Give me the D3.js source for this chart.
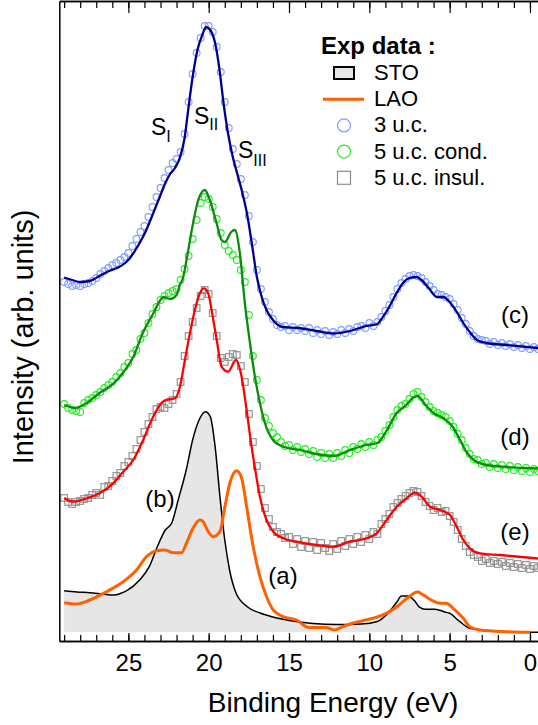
<!DOCTYPE html>
<html>
<head>
<meta charset="utf-8">
<script src="https://cdn.jsdelivr.net/npm/d3@7"></script>
<style>
  body { margin: 0; background: #fff; }
  svg { display: block; font-family: "Liberation Sans", Arial, sans-serif; }
</style>
</head>
<body>
<svg id="chart" width="538" height="725"></svg>
<script>
// Spectra: [binding energy (eV), intensity (arb. units)]

// (b) STO, black line with grey fill
const stoLine = [[29.0,4.13],[28.2,4.0],[27.4,3.93],[26.6,3.8],[25.9,3.7],[25.5,3.85],[25.1,4.13],
  [24.3,5.2],[23.7,6.53],[23.2,8.53],[22.7,10.2],[22.3,10.9],[21.9,13.2],[21.4,16.2],[21.0,19.2],
  [20.6,21.2],[20.2,22.03],[19.9,21.53],[19.6,18.53],[19.3,13.53],[19.0,9.2],[18.7,6.2],[18.3,3.9],
  [17.6,2.53],[16.8,1.9],[16.0,1.5],[14.9,1.13],[13.5,0.85],[12.0,0.75],[10.5,0.8],[9.5,1.05],
  [8.9,1.77],[8.3,2.97],[8.0,3.59],[7.6,3.59],[7.2,3.14],[6.9,2.52],[6.5,2.28],[5.9,2.28],[5.3,2.0],
  [5.0,1.87],[4.36,1.03],[3.74,0.37],[2.5,0.12],[0.0,-0.03],[-0.5,-0.03]];

// (a) LAO, orange line
const laoLine = [[29.0,2.93],[28.23,2.8],[27.4,3.2],[26.36,4.03],[25.32,5.03],[24.49,6.2],[23.87,7.53],
  [23.24,8.13],[22.73,8.2],[22.21,7.93],[21.69,7.93],[21.38,8.9],[20.97,10.4],[20.55,11.2],[20.34,11.03],
  [20.03,10.03],[19.72,9.53],[19.3,10.03],[18.99,12.53],[18.68,14.9],[18.26,16.13],[17.95,15.4],
  [17.64,12.53],[17.23,8.53],[16.81,5.53],[16.4,3.53],[15.98,2.2],[15.36,1.53],[14.53,1.2],[13.8,0.46],
  [12.7,0.46],[12.2,0.2],[11.6,0.57],[11.0,0.9],[10.35,1.15],[9.5,1.5],[8.85,1.94],[8.2,2.63],
  [7.57,3.48],[7.0,4.0],[6.6,3.66],[6.08,3.14],[5.6,2.87],[5.2,2.87],[4.78,2.37],[4.15,1.37],
  [3.74,0.53],[3.1,0.2],[1.45,0.03],[0.0,-0.03]];

// (c) 3 u.c., navy line
const blueLine = [[29.0,35.45],[28.5,35.2],[28.0,35.0],[27.4,35.1],[26.8,35.6],[26.2,36.1],[25.7,36.4],
  [25.2,36.9],[24.9,37.4],[24.6,38.1],[24.3,38.9],[24.0,39.8],[23.7,40.9],[23.3,42.5],[23.0,43.7],
  [22.7,44.9],[22.4,45.8],[22.1,46.4],[21.8,47.4],[21.5,49.4],[21.3,51.9],[21.0,55.5],[20.7,58.2],
  [20.4,59.7],[20.15,60.5],[19.9,60.2],[19.6,58.9],[19.3,55.9],[19.1,53.2],[18.8,49.9],[18.5,47.5],
  [18.2,45.7],[17.9,43.9],[17.6,41.7],[17.3,38.7],[17.0,35.5],[16.7,33.5],[16.4,32.2],[16.0,31.2],
  [15.4,30.5],[14.4,30.4],[13.3,30.1],[12.2,29.85],[11.2,30.1],[10.2,30.6],[9.5,30.8],[9.2,31.4],
  [8.8,32.4],[8.3,33.9],[7.9,34.9],[7.5,35.4],[7.05,35.5],[6.75,35.2],[6.3,34.4],[5.8,33.5],[5.4,33.5],
  [5.0,33.0],[4.55,32.0],[4.15,30.9],[3.7,29.9],[3.3,29.2],[2.7,28.9],[1.45,28.7],[-0.5,28.4]];

// (d) 5 u.c. conducting, green line
const greenLine = [[29.0,22.7],[28.3,22.4],[27.6,22.9],[26.8,23.9],[25.9,24.9],[25.3,26.0],[24.7,27.5],
  [24.1,29.9],[23.5,31.7],[22.8,33.5],[22.4,33.3],[22.0,33.7],[21.8,34.7],[21.6,35.4],[21.38,37.2],
  [20.97,40.9],[20.65,43.2],[20.24,44.2],[19.93,43.2],[19.51,40.9],[19.2,39.2],[18.99,39.0],[18.6,40.0],
  [18.37,40.2],[18.06,37.9],[17.75,32.9],[17.43,28.9],[17.12,25.5],[16.81,22.9],[16.5,20.9],[16.0,19.2],
  [15.3,18.5],[14.3,18.2],[13.3,17.8],[12.2,17.6],[11.2,18.2],[10.2,18.7],[9.5,18.9],[8.9,20.2],
  [8.3,21.9],[7.7,22.7],[7.3,23.4],[7.0,23.6],[6.5,22.7],[6.0,21.9],[5.4,21.4],[4.8,20.5],[4.35,19.2],
  [3.95,18.0],[3.5,17.2],[2.7,16.7],[1.45,16.5],[-0.5,16.35]];

// (e) 5 u.c. insulating, red line
const redLine = [[29.0,13.4],[28.44,13.03],[27.6,13.37],[26.8,13.87],[25.95,14.87],[25.32,16.03],
  [24.7,17.2],[24.08,19.2],[23.46,21.53],[22.93,22.93],[22.52,23.27],[22.1,23.37],[21.79,24.53],
  [21.48,27.2],[21.17,29.87],[20.86,32.2],[20.55,33.87],[20.3,34.37],[20.03,33.87],[19.82,32.2],
  [19.5,29.2],[19.2,26.53],[18.79,26.03],[18.31,27.2],[17.95,25.53],[17.64,22.2],[17.33,18.53],
  [17.12,16.4],[16.81,13.53],[16.4,11.2],[15.98,10.03],[15.36,9.37],[14.53,9.03],[13.28,8.7],
  [12.25,8.53],[11.21,9.03],[10.17,9.37],[9.55,9.87],[8.92,11.2],[8.3,12.53],[7.68,13.37],[7.16,13.93],
  [6.74,13.53],[6.23,12.53],[5.6,12.2],[4.98,11.7],[4.56,10.53],[4.15,9.2],[3.74,8.37],[3.11,7.87],
  [1.87,7.7],[-0.5,7.35]];

// measured points, one every 0.25 eV from 29 to -0.5 eV
const markerEnergies = d3.range(29, -0.51, -0.25);

const blueMarkers = [
  35.0, 34.8, 34.6, 34.7, 34.6, 34.8, 34.9, 35.1, 35.4, 35.8,
  36.1, 36.4, 36.7, 36.9, 37.2, 37.5, 37.9, 38.6, 39.3, 40.0,
  40.6, 41.5, 42.5, 43.5, 44.4, 45.4, 46.2, 46.9, 47.3, 48.0,
  49.8, 53.0, 55.8, 57.9, 59.4, 60.6, 60.6, 60.0, 58.5, 56.0,
  53.0, 50.4, 48.3, 46.8, 45.3, 43.7, 41.6, 39.0, 36.2, 34.3,
  33.0, 32.0, 31.3, 30.7, 30.5, 30.6, 30.2, 30.5, 30.2, 30.4,
  30.1, 30.4, 29.9, 30.2, 29.8, 30.1, 29.7, 30.0, 29.8, 30.2,
  29.9, 30.3, 30.1, 30.5, 30.6, 30.4, 30.9, 30.6, 31.0, 31.5,
  32.1, 32.7, 33.5, 34.3, 34.9, 35.3, 35.6, 35.7, 35.6, 35.4,
  35.0, 34.6, 34.2, 33.8, 33.7, 33.5, 33.3, 32.8, 32.2, 31.4,
  30.8, 30.1, 29.6, 29.3, 29.2, 29.1, 28.8, 29.0, 28.7, 28.9,
  28.6, 28.8, 28.5, 28.7, 28.4, 28.6, 28.3, 28.5, 28.3];

const greenMarkers = [
  22.8, 22.4, 22.2, 22.1, 22.0, 22.9, 23.2, 23.4, 23.7, 24.0,
  24.4, 24.7, 25.0, 25.5, 25.9, 26.5, 26.9, 27.8, 28.2, 29.3,
  29.9, 30.9, 31.8, 32.5, 33.2, 33.6, 33.9, 34.1, 34.3, 35.2,
  36.3, 37.6, 39.3, 41.2, 42.9, 43.5, 43.3, 42.5, 41.3, 39.9,
  38.7, 38.1, 37.7, 37.2, 36.2, 35.0, 31.7, 27.6, 25.2, 23.2,
  21.4, 20.6, 19.9, 19.5, 19.0, 18.6, 18.7, 18.2, 18.5, 18.0,
  18.3, 17.8, 18.1, 17.5, 17.9, 17.4, 17.8, 17.4, 17.9, 17.6,
  18.2, 17.9, 18.5, 18.3, 18.8, 18.5, 19.0, 18.7, 19.2, 19.5,
  20.1, 20.7, 21.5, 22.2, 22.6, 22.8, 23.3, 23.8, 24.0, 23.5,
  23.0, 22.5, 22.1, 21.9, 21.7, 21.5, 21.1, 20.5, 19.8, 19.2,
  18.4, 17.8, 17.3, 17.2, 16.8, 16.9, 16.5, 16.8, 16.4, 16.7,
  16.3, 16.6, 16.2, 16.5, 16.1, 16.4, 16.0, 16.3, 16.1];

const greyMarkers = [
  13.4, 13.0, 12.8, 13.0, 13.1, 13.3, 13.4, 13.7, 13.9, 13.7,
  14.5, 14.6, 15.1, 15.6, 15.9, 16.6, 17.0, 17.6, 18.3, 19.2,
  20.0, 20.8, 21.5, 22.3, 22.5, 22.4, 22.8, 23.2, 23.8, 25.0,
  27.6, 29.6, 31.0, 32.4, 33.6, 34.2, 33.8, 31.9, 29.6, 27.4,
  27.0, 27.5, 27.8, 27.7, 26.6, 25.0, 21.8, 19.0, 16.6, 14.3,
  12.4, 11.3, 10.5, 10.0, 9.8, 9.4, 9.5, 8.8, 9.3, 8.5,
  9.1, 8.4, 9.0, 8.2, 8.9, 8.4, 8.1, 8.8, 8.3, 9.1,
  8.6, 9.3, 8.8, 9.5, 9.0, 9.7, 9.3, 10.0, 9.8, 10.8,
  11.3, 11.8, 12.5, 12.9, 13.3, 13.6, 13.9, 14.1, 14.0, 13.6,
  13.0, 12.6, 12.2, 12.4, 12.0, 12.1, 11.6, 11.0, 10.2, 9.3,
  8.6, 8.0, 7.7, 7.5, 7.1, 7.3, 6.9, 7.1, 6.8, 7.0,
  6.6, 6.9, 6.5, 6.8, 6.4, 6.7, 6.3, 6.6, 6.4];

const majorTicks = [25, 20, 15, 10, 5, 0];
const minorTicks = d3.range(0, 30, 1);

const legendItems = ["STO", "LAO", "3 u.c.", "5 u.c. cond.", "5 u.c. insul."];

const svg = d3.select("#chart");

const x = d3.scaleLinear().domain([29.3, -0.6]).range([59.3, 539.6]);
const y = d3.scaleLinear().domain([-0.9, 63.1]).range([641, 1]);

svg.append("defs").append("clipPath").attr("id", "plot-clip")
  .append("rect").attr("x", 59.3).attr("y", 0).attr("width", 480).attr("height", 641);

const plot = svg.append("g").attr("clip-path", "url(#plot-clip)");

const line = d3.line()
  .x(d => x(d[0]))
  .y(d => y(d[1]))
  .curve(d3.curveMonotoneX);

// grey filled STO spectrum
plot.append("path")
  .datum(stoLine)
  .attr("fill", "#e6e6e6")
  .attr("d", d3.area().x(d => x(d[0])).y0(y(0)).y1(d => y(d[1])).curve(d3.curveMonotoneX));

plot.append("path").datum(stoLine)
  .attr("fill", "none").attr("stroke", "#000").attr("stroke-width", 1.5)
  .attr("d", line);

plot.append("path").datum(laoLine)
  .attr("fill", "none").attr("stroke", "#ff6000").attr("stroke-width", 3)
  .attr("d", line);

function zipMarkers(values) {
  return values.map((v, i) => [markerEnergies[i], v]);
}

// markers then the matching line on top
function drawCircles(values, color) {
  plot.append("g").selectAll("circle")
    .data(zipMarkers(values))
    .enter().append("circle")
    .attr("cx", d => x(d[0]))
    .attr("cy", d => y(d[1]))
    .attr("r", 3.4)
    .attr("fill", "none")
    .attr("stroke", color)
    .attr("stroke-width", 1.1);
}

drawCircles(blueMarkers, "#7f9cff");
plot.append("path").datum(blueLine)
  .attr("fill", "none").attr("stroke", "#000090").attr("stroke-width", 2.3)
  .attr("d", line);

drawCircles(greenMarkers, "#22ee22");
plot.append("path").datum(greenLine)
  .attr("fill", "none").attr("stroke", "#0c8c0c").attr("stroke-width", 2.3)
  .attr("d", line);

plot.append("g").selectAll("rect")
  .data(zipMarkers(greyMarkers))
  .enter().append("rect")
  .attr("x", d => x(d[0]) - 3.3)
  .attr("y", d => y(d[1]) - 3.3)
  .attr("width", 6.6)
  .attr("height", 6.6)
  .attr("fill", "none")
  .attr("stroke", "#8c8c8c")
  .attr("stroke-width", 1.1);
plot.append("path").datum(redLine)
  .attr("fill", "none").attr("stroke", "#ff0000").attr("stroke-width", 2.3)
  .attr("d", line);

// Axes
function styleAxis(g) {
  g.select(".domain").attr("stroke", "#000").attr("stroke-width", 1.5);
  g.selectAll(".tick line").attr("stroke", "#000").attr("stroke-width", 1.2);
  g.selectAll(".tick text").attr("font-size", 24).attr("fill", "#000")
    .attr("font-family", "'Liberation Sans', Arial, sans-serif");
}

svg.append("g").attr("transform", "translate(0,641)")
  .call(d3.axisBottom(x).tickValues(minorTicks).tickSize(-6).tickSizeOuter(0).tickFormat(""))
  .call(styleAxis);
svg.append("g").attr("transform", "translate(0,641)")
  .call(d3.axisBottom(x).tickValues(majorTicks).tickSize(-8).tickSizeOuter(0).tickPadding(13).tickFormat(d3.format("d")))
  .call(styleAxis);

svg.append("g").attr("transform", "translate(0,1)")
  .call(d3.axisTop(x).tickValues(minorTicks).tickSize(-7).tickSizeOuter(0).tickFormat(""))
  .call(styleAxis);
svg.append("g").attr("transform", "translate(0,1)")
  .call(d3.axisTop(x).tickValues(majorTicks).tickSize(-12).tickSizeOuter(0).tickFormat(""))
  .call(styleAxis);

svg.append("g").attr("transform", "translate(59.3,0)")
  .call(d3.axisLeft(y).tickValues([]).tickSizeOuter(0))
  .call(styleAxis);

svg.append("text")
  .attr("x", 333).attr("y", 712)
  .attr("text-anchor", "middle").attr("font-size", 28)
  .text("Binding Energy (eV)");

svg.append("text")
  .attr("transform", "translate(33,337) rotate(-90)")
  .attr("text-anchor", "middle").attr("font-size", 29)
  .text("Intensity (arb. units)");

// curve labels
const curveLabels = [
  { t: "(c)", x: 515, y: 323 },
  { t: "(d)", x: 515, y: 445 },
  { t: "(e)", x: 515, y: 540 },
  { t: "(b)", x: 160, y: 507 },
  { t: "(a)", x: 283, y: 584 }
];
svg.append("g").selectAll("text")
  .data(curveLabels)
  .enter().append("text")
  .attr("x", d => d.x).attr("y", d => d.y)
  .attr("text-anchor", "middle").attr("font-size", 24)
  .text(d => d.t);

// S_I, S_II, S_III
const peakLabels = [
  { sub: "I", x: 151, y: 135, dy: 7 },
  { sub: "II", x: 194, y: 124, dy: 6 },
  { sub: "III", x: 238, y: 158, dy: 8 }
];
peakLabels.forEach(p => {
  const t = svg.append("text").attr("x", p.x).attr("y", p.y).attr("font-size", 23);
  t.append("tspan").text("S");
  t.append("tspan").attr("dy", p.dy).attr("font-size", 16).text(p.sub);
});

// Legend
const legend = svg.append("g");
legend.append("text")
  .attr("x", 321).attr("y", 54)
  .attr("font-size", 24).attr("font-weight", "bold")
  .text("Exp data :");

legendItems.forEach((name, i) => {
  const by = 80 + i * 26.2;
  legend.append("text").attr("x", 374).attr("y", by).attr("font-size", 22).text(name);
  const cy = by - 7;
  if (i === 0) {
    legend.append("rect").attr("x", 334).attr("y", cy - 6).attr("width", 20).attr("height", 12)
      .attr("fill", "#e6e6e6").attr("stroke", "#000").attr("stroke-width", 2);
  } else if (i === 1) {
    legend.append("line").attr("x1", 323).attr("x2", 364).attr("y1", cy).attr("y2", cy)
      .attr("stroke", "#ff6000").attr("stroke-width", 3);
  } else if (i === 2 || i === 3) {
    legend.append("circle").attr("cx", 344).attr("cy", cy).attr("r", 6.5)
      .attr("fill", "none").attr("stroke", i === 2 ? "#7f9cff" : "#22ee22").attr("stroke-width", 1.2);
  } else {
    legend.append("rect").attr("x", 337.5).attr("y", cy - 6.5).attr("width", 13).attr("height", 13)
      .attr("fill", "none").attr("stroke", "#8c8c8c").attr("stroke-width", 1.2);
  }
});
</script>
</body>
</html>
